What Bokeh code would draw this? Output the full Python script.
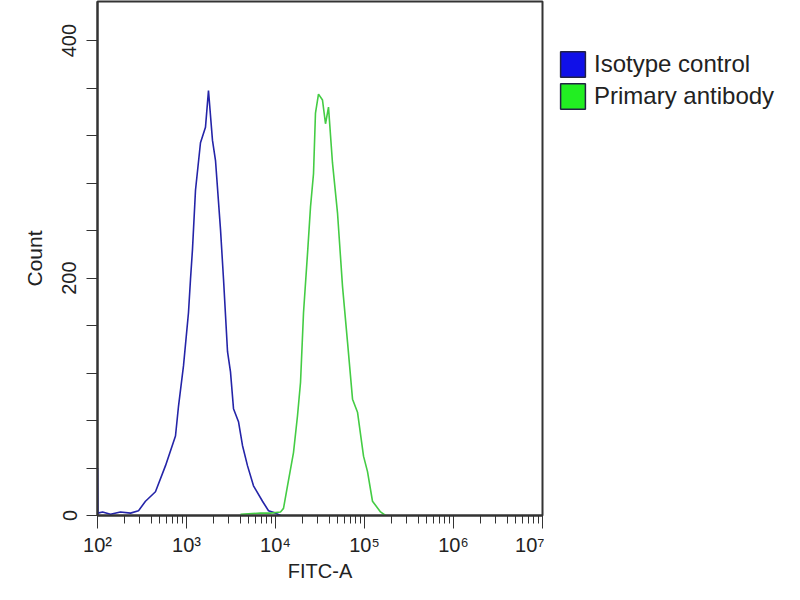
from bokeh.plotting import figure
from bokeh.layouts import row
from bokeh.models import (FixedTicker, Legend, LegendItem, ColumnDataSource)
from bokeh.embed import file_html
from bokeh.resources import INLINE

# ---- data ----
blue_x = [100, 101, 114, 140, 181, 235, 289, 346, 448, 581, 752, 813, 925, 1053, 1109,
          1167, 1262, 1436, 1634, 1766, 1959, 2118, 2410, 2606, 2891, 3121, 3374, 3839,
          4256, 4842, 5658, 7145, 8345, 10000, 11380]
blue_y = [40, 2, 3, 1, 3, 2, 4, 12, 20, 42, 67, 92, 126, 171, 199,
          224, 274, 314, 327, 358, 316, 299, 241, 199, 138, 121, 90, 79,
          59, 42, 25, 12, 4, 2, 0]

green_x = [4047, 6776, 8790, 11380, 12300, 13640, 15930, 17670, 19100, 20650, 22910,
           24740, 26740, 28130, 30410, 33730, 36460, 39400, 43690, 49730, 56620, 64460,
           73380, 83450, 97500, 108100, 123000, 151300, 172200]
green_y = [1, 2, 2, 3, 6, 25, 53, 84, 112, 171, 221,
           260, 288, 339, 355, 350, 330, 344, 297, 255, 193, 146,
           98, 87, 50, 37, 12, 3, 0]

series_names = ["Isotype control", "Primary antibody"]
series_line_colors = ["#2424a8", "#44cc44"]
series_fill_colors = ["#1010e8", "#22ee22"]

x_major = [100, 1000, 10000, 100000, 1000000, 10000000]
x_labels = ["10\u00b2", "10\u00b3", "10\u2074", "10\u2075", "10\u2076", "10\u2077"]
y_ticks = [0, 40, 80, 120, 160, 200, 240, 280, 320, 360, 400]
y_labeled = {0: "0", 200: "200", 400: "400"}

FONT = "Liberation Sans"
NAN = float("nan")

p = figure(width=544, height=584, x_axis_type="log",
           x_range=(100, 10000000), y_range=(0, 433),
           output_backend="svg", toolbar_location=None,
           min_border_left=97, min_border_right=2, min_border_top=1,
           min_border_bottom=69)
p.grid.visible = False
p.outline_line_color = "#333333"
p.outline_line_width = 2
p.background_fill_color = "white"

p.line(blue_x, blue_y, line_color=series_line_colors[0], line_width=1.6)
p.line(green_x, green_y, line_color=series_line_colors[1], line_width=1.6)

# x axis
xa = p.xaxis[0]
minor = []
for d in x_major[:-1]:
    for k in range(2, 10):
        minor.append(d * k)
xa.ticker = FixedTicker(ticks=x_major, minor_ticks=minor)
xa.major_label_overrides = {int(t): l for t, l in zip(x_major, x_labels)}
xa.major_tick_out = 13
xa.major_tick_in = 0
xa.minor_tick_out = 8
xa.minor_tick_in = 0
xa.axis_line_color = "#333333"
xa.axis_line_width = 2
xa.major_tick_line_color = "#333333"
xa.minor_tick_line_color = "#333333"
xa.major_label_text_font = FONT
xa.major_label_text_font_size = "20px"
xa.major_label_text_color = "#222222"
xa.major_label_standoff = 5
xa.axis_label = "FITC-A"
xa.axis_label_text_font = FONT
xa.axis_label_text_font_size = "20px"
xa.axis_label_text_font_style = "normal"
xa.axis_label_text_color = "#222222"
xa.axis_label_standoff = 1

# y axis
ya = p.yaxis[0]
ya.ticker = FixedTicker(ticks=y_ticks)
ya.major_label_overrides = {t: y_labeled.get(t, "") for t in y_ticks}
ya.major_tick_out = 11
ya.major_tick_in = 0
ya.minor_tick_out = 0
ya.minor_tick_in = 0
ya.axis_line_color = "#333333"
ya.axis_line_width = 2
ya.major_tick_line_color = "#333333"
ya.major_label_orientation = "vertical"
ya.major_label_text_font = FONT
ya.major_label_text_font_size = "20px"
ya.major_label_text_color = "#222222"
ya.major_label_standoff = 10
ya.axis_label = "Count"
ya.axis_label_text_font = FONT
ya.axis_label_text_font_size = "21px"
ya.axis_label_text_font_style = "normal"
ya.axis_label_text_color = "#222222"
ya.axis_label_standoff = 14

# legend panel (second figure to the right of the plot box)
lg = figure(width=240, height=584, x_range=(0, 1), y_range=(0, 1),
            x_axis_location=None, y_axis_location=None,
            output_backend="svg", toolbar_location=None,
            min_border=0, outline_line_color=None)
lg.grid.visible = False
items = []
for name, fc in zip(series_names, series_fill_colors):
    src = ColumnDataSource(dict(left=[NAN], right=[NAN], top=[NAN], bottom=[NAN]))
    r = lg.quad(left="left", right="right", top="top", bottom="bottom", source=src,
                fill_color=fc, line_color="#222244", line_width=1.5)
    items.append(LegendItem(label=name, renderers=[r]))

legend = Legend(items=items, location=(13, 403), orientation="vertical",
                border_line_color=None, background_fill_alpha=0,
                padding=0, margin=0, spacing=0,
                glyph_width=31, glyph_height=32, label_height=32,
                label_standoff=6,
                label_text_font=FONT, label_text_font_size="24px",
                label_text_color="#222222")
lg.add_layout(legend, "center")

layout = row(p, lg)
open("out.html", "w").write(file_html(layout, INLINE))
